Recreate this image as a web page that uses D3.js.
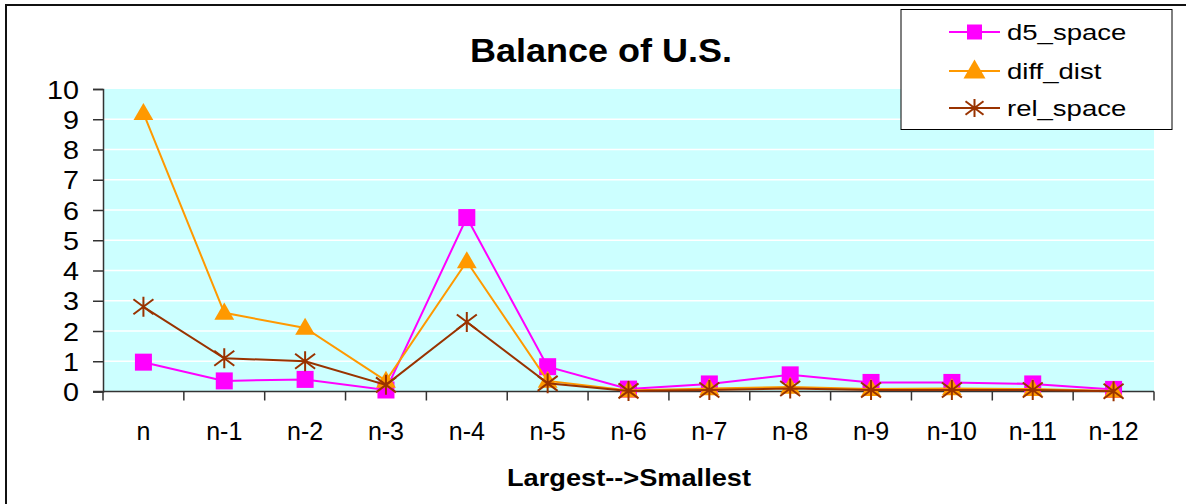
<!DOCTYPE html>
<html>
<head>
<meta charset="utf-8">
<script src="https://cdn.jsdelivr.net/npm/d3@7"></script>
<style>
  html, body { margin: 0; padding: 0; background: #fff; }
  svg { display: block; font-family: Arial, "Liberation Sans", sans-serif; }
</style>
</head>
<body>
<svg id="chart" width="1186" height="504"></svg>
<script>
// Categories along the x axis (largest to smallest)
const categories = ["n", "n-1", "n-2", "n-3", "n-4", "n-5", "n-6", "n-7", "n-8", "n-9", "n-10", "n-11", "n-12"];

// Series values
const d5Space   = [0.97, 0.35, 0.40, 0.05, 5.75, 0.82, 0.08, 0.25, 0.55, 0.30, 0.30, 0.25, 0.07];
const diffDist  = [9.2, 2.6, 2.1, 0.35, 4.3, 0.35, 0.03, 0.10, 0.15, 0.08, 0.10, 0.08, 0.02];
const relSpace  = [2.8, 1.1, 1.0, 0.22, 2.3, 0.27, 0.02, 0.05, 0.10, 0.05, 0.05, 0.05, 0.01];

const yTicks = [0, 1, 2, 3, 4, 5, 6, 7, 8, 9, 10];

const seriesNames = ["d5_space", "diff_dist", "rel_space"];

const series = [
  { name: seriesNames[0], values: d5Space,  color: "#FF00FF", marker: "square" },
  { name: seriesNames[1], values: diffDist, color: "#FF9900", marker: "triangle" },
  { name: seriesNames[2], values: relSpace, color: "#993300", marker: "star" }
];

const svg = d3.select("#chart");

// Outer chart frame
svg.append("rect")
  .attr("x", 6).attr("y", 5)
  .attr("width", 1186).attr("height", 520)
  .attr("fill", "none").attr("stroke", "#111").attr("stroke-width", 2);

const plot = { left: 103, right: 1154, top: 89, bottom: 391.5 };

const x = d3.scaleBand().domain(categories).range([plot.left, plot.right]).padding(0);
const y = d3.scaleLinear().domain([0, 10]).range([plot.bottom, plot.top]);

// Plot background
svg.append("rect")
  .attr("x", plot.left).attr("y", plot.top)
  .attr("width", plot.right - plot.left).attr("height", plot.bottom - plot.top)
  .attr("fill", "#CCFFFF");

// Horizontal grid lines
svg.append("g")
  .selectAll("line")
  .data(yTicks.filter(t => t > 0 && t < 10))
  .join("line")
  .attr("x1", plot.left).attr("x2", plot.right)
  .attr("y1", d => y(d)).attr("y2", d => y(d))
  .attr("stroke", "#fff").attr("stroke-width", 1.5);

// Y axis
const yAxis = svg.append("g")
  .attr("transform", `translate(${plot.left},0)`)
  .call(d3.axisLeft(y).tickValues(yTicks).tickSize(10).tickPadding(14).tickFormat(d3.format("d")));
yAxis.select(".domain").attr("stroke", "#333").attr("stroke-width", 1.5);
yAxis.selectAll(".tick line").attr("stroke", "#333").attr("stroke-width", 1.5);
yAxis.selectAll(".tick text")
  .attr("font-size", 25).attr("fill", "#000")
  .attr("font-family", "Arial, 'Liberation Sans', sans-serif")
  .attr("dy", "0.36em")
  .each(function () {
    const w = this.getComputedTextLength();
    d3.select(this).attr("textLength", w * 1.15).attr("lengthAdjust", "spacingAndGlyphs");
  });

// X axis: ticks on band boundaries
const xAxisG = svg.append("g");
xAxisG.append("line")
  .attr("x1", plot.left - 10).attr("x2", plot.right)
  .attr("y1", plot.bottom).attr("y2", plot.bottom)
  .attr("stroke", "#333").attr("stroke-width", 1.5);
const boundaries = categories.map(c => x(c)).concat([x(categories[categories.length - 1]) + x.bandwidth()]);
xAxisG.selectAll("line.tk")
  .data(boundaries)
  .join("line")
  .attr("class", "tk")
  .attr("x1", d => d).attr("x2", d => d)
  .attr("y1", plot.bottom).attr("y2", plot.bottom + 9)
  .attr("stroke", "#333").attr("stroke-width", 1.5);

xAxisG.selectAll("text")
  .data(categories)
  .join("text")
  .attr("x", d => x(d) + x.bandwidth() / 2)
  .attr("y", 440)
  .attr("text-anchor", "middle")
  .attr("font-size", 25)
  .attr("fill", "#000")
  .text(d => d);

// Titles
svg.append("text")
  .attr("x", 601).attr("y", 62)
  .attr("text-anchor", "middle")
  .attr("font-size", 34).attr("font-weight", "bold")
  .attr("fill", "#000")
  .attr("textLength", 262).attr("lengthAdjust", "spacingAndGlyphs")
  .text("Balance of U.S.");

svg.append("text")
  .attr("x", 629).attr("y", 486)
  .attr("text-anchor", "middle")
  .attr("font-size", 24).attr("font-weight", "bold")
  .attr("fill", "#000")
  .attr("textLength", 244).attr("lengthAdjust", "spacingAndGlyphs")
  .text("Largest-->Smallest");

// Marker drawing helper
function drawMarker(g, type, color, cx, cy, s) {
  if (type === "square") {
    g.append("rect")
      .attr("x", cx - s / 2).attr("y", cy - s / 2)
      .attr("width", s).attr("height", s)
      .attr("fill", color);
  } else if (type === "triangle") {
    const h = s * 0.95;
    g.append("path")
      .attr("d", `M${cx},${cy - h * 0.6} L${cx + s * 0.55},${cy + h * 0.4} L${cx - s * 0.55},${cy + h * 0.4} Z`)
      .attr("fill", color);
  } else {
    const r = s / 2;
    g.append("path")
      .attr("d", `M${cx - r},${cy - r * 0.75} L${cx + r},${cy + r * 0.75} M${cx - r},${cy + r * 0.75} L${cx + r},${cy - r * 0.75} M${cx},${cy - r} L${cx},${cy + r}`)
      .attr("stroke", color).attr("stroke-width", 2).attr("fill", "none");
  }
}

const line = d3.line()
  .x((d, i) => x(categories[i]) + x.bandwidth() / 2)
  .y(d => y(d));

const sizes = { square: 17, triangle: 18, star: 20 };

series.forEach(s => {
  const g = svg.append("g");
  g.append("path")
    .attr("d", line(s.values))
    .attr("fill", "none")
    .attr("stroke", s.color)
    .attr("stroke-width", 2);
  s.values.forEach((v, i) => {
    drawMarker(g, s.marker, s.color, x(categories[i]) + x.bandwidth() / 2, y(v), sizes[s.marker]);
  });
});

// Legend
const legend = svg.append("g");
legend.append("rect")
  .attr("x", 901).attr("y", 9.5)
  .attr("width", 271).attr("height", 120)
  .attr("fill", "#fff").attr("stroke", "#000").attr("stroke-width", 1);

const legendRows = [32, 71, 108];
const legendSizes = { square: 15, triangle: 20, star: 18 };
series.forEach((s, i) => {
  const cy = legendRows[i];
  legend.append("line")
    .attr("x1", 949).attr("x2", 1000)
    .attr("y1", cy).attr("y2", cy)
    .attr("stroke", s.color).attr("stroke-width", 2);
  drawMarker(legend, s.marker, s.color, 974.5, cy, legendSizes[s.marker]);
  legend.append("text")
    .attr("x", 1007).attr("y", cy + 8)
    .attr("font-size", 22).attr("fill", "#000")
    .text(s.name)
    .each(function () {
      const w = this.getComputedTextLength();
      d3.select(this).attr("textLength", w * 1.25).attr("lengthAdjust", "spacingAndGlyphs");
    });
});
</script>
</body>
</html>
